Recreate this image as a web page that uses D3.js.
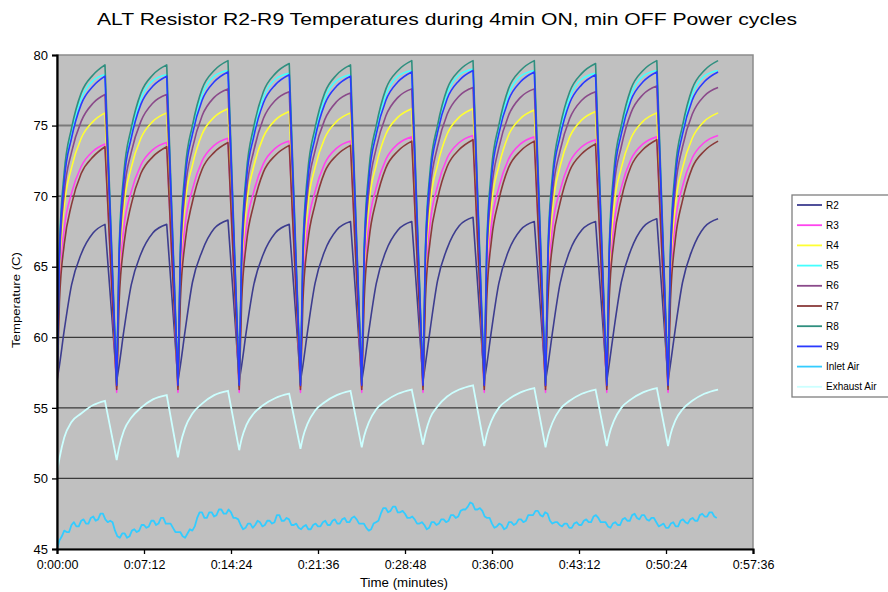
<!DOCTYPE html>
<html><head><meta charset="utf-8">
<script src="https://cdn.jsdelivr.net/npm/d3@7"></script>
<style>body{margin:0;background:#fff;} svg{display:block;font-family:"Liberation Sans",Arial,sans-serif;}</style>
</head><body><svg id="c" width="888" height="592"></svg>
<script>
// sample times (minutes): 7 samples per ON cycle (start/min ... peak)
const times = [
 0, 0.2, 0.6, 1.2, 2.0, 3.0, 3.97,
 4.94, 5.14, 5.54, 6.14, 6.94, 7.94, 9.08,
 10.01, 10.21, 10.61, 11.21, 12.01, 13.01, 14.15,
 15.08, 15.28, 15.68, 16.28, 17.08, 18.08, 19.22,
 20.15, 20.35, 20.75, 21.35, 22.15, 23.15, 24.29,
 25.22, 25.42, 25.82, 26.42, 27.22, 28.22, 29.36,
 30.29, 30.49, 30.89, 31.49, 32.29, 33.29, 34.43,
 35.36, 35.56, 35.96, 36.56, 37.36, 38.36, 39.50,
 40.43, 40.63, 41.03, 41.63, 42.43, 43.43, 44.57,
 45.50, 45.70, 46.10, 46.70, 47.50, 48.50, 49.64,
 50.57, 50.77, 51.17, 51.77, 52.57, 53.57, 54.71];

const R2 = [
 56.9, 58.0, 60.5, 63.7, 65.9, 67.4, 68.0,
 56.9, 58.0, 60.5, 63.7, 65.9, 67.4, 68.0,
 56.9, 58.0, 60.5, 63.9, 66.1, 67.7, 68.3,
 56.9, 58.0, 60.5, 63.7, 65.9, 67.4, 68.0,
 56.9, 58.0, 60.5, 63.8, 66.1, 67.6, 68.2,
 56.9, 58.0, 60.5, 63.8, 66.1, 67.6, 68.2,
 56.9, 58.1, 60.6, 64.0, 66.3, 67.9, 68.5,
 56.9, 58.0, 60.5, 63.8, 66.1, 67.6, 68.2,
 56.9, 58.0, 60.5, 63.8, 66.1, 67.6, 68.2,
 56.9, 58.1, 60.6, 63.9, 66.2, 67.8, 68.4,
 56.9, 58.1, 60.6, 63.9, 66.2, 67.8, 68.4];

const R3 = [
 56.1, 63.5, 67.7, 70.2, 72.1, 73.2, 73.7,
 56.1, 63.5, 67.8, 70.3, 72.2, 73.3, 73.8,
 56.1, 63.7, 68.0, 70.5, 72.5, 73.6, 74.1,
 56.1, 63.6, 67.8, 70.3, 72.3, 73.4, 73.9,
 56.1, 63.6, 67.8, 70.3, 72.3, 73.4, 73.9,
 56.1, 63.7, 68.0, 70.6, 72.6, 73.7, 74.2,
 56.1, 63.7, 68.1, 70.7, 72.7, 73.8, 74.3,
 56.1, 63.7, 68.0, 70.6, 72.6, 73.7, 74.2,
 56.1, 63.6, 67.9, 70.4, 72.4, 73.5, 74.0,
 56.1, 63.7, 68.0, 70.6, 72.6, 73.7, 74.2,
 56.1, 63.7, 68.1, 70.7, 72.7, 73.8, 74.3];

const R4 = [
 56.4, 64.6, 69.3, 72.0, 74.1, 75.3, 75.9,
 56.4, 64.6, 69.3, 72.0, 74.1, 75.3, 75.9,
 56.4, 64.7, 69.5, 72.2, 74.4, 75.6, 76.2,
 56.4, 64.6, 69.3, 72.1, 74.2, 75.4, 76.0,
 56.4, 64.6, 69.3, 72.0, 74.1, 75.3, 75.9,
 56.4, 64.7, 69.5, 72.2, 74.4, 75.6, 76.2,
 56.4, 64.7, 69.5, 72.2, 74.4, 75.6, 76.2,
 56.4, 64.7, 69.4, 72.1, 74.3, 75.5, 76.1,
 56.4, 64.6, 69.3, 72.1, 74.2, 75.4, 76.0,
 56.4, 64.6, 69.3, 72.0, 74.1, 75.3, 75.9,
 56.4, 64.6, 69.3, 72.0, 74.1, 75.3, 75.9];

const R5 = [
 56.7, 66.2, 71.5, 74.5, 76.9, 78.2, 78.6,
 56.7, 66.2, 71.5, 74.5, 76.9, 78.2, 78.6,
 56.7, 66.3, 71.7, 74.8, 77.2, 78.5, 78.9,
 56.7, 66.2, 71.6, 74.6, 77.0, 78.3, 78.7,
 56.7, 66.2, 71.5, 74.5, 76.9, 78.2, 78.6,
 56.7, 66.3, 71.7, 74.8, 77.2, 78.5, 78.9,
 56.7, 66.4, 71.8, 74.9, 77.3, 78.6, 79.0,
 56.7, 66.3, 71.7, 74.8, 77.2, 78.5, 78.9,
 56.7, 66.2, 71.6, 74.6, 77.0, 78.3, 78.7,
 56.7, 66.3, 71.7, 74.8, 77.2, 78.5, 78.9,
 56.7, 66.3, 71.7, 74.8, 77.2, 78.5, 78.9];

const R6 = [
 56.5, 65.2, 70.2, 73.1, 75.3, 76.6, 77.2,
 56.5, 65.2, 70.2, 73.1, 75.3, 76.6, 77.2,
 56.5, 65.4, 70.4, 73.4, 75.7, 77.0, 77.6,
 56.5, 65.3, 70.3, 73.2, 75.5, 76.8, 77.4,
 56.5, 65.2, 70.3, 73.2, 75.4, 76.7, 77.3,
 56.5, 65.4, 70.4, 73.4, 75.7, 77.0, 77.6,
 56.5, 65.4, 70.5, 73.5, 75.8, 77.1, 77.7,
 56.5, 65.4, 70.4, 73.4, 75.7, 77.0, 77.6,
 56.5, 65.3, 70.3, 73.2, 75.5, 76.8, 77.4,
 56.5, 65.4, 70.6, 73.5, 75.9, 77.2, 77.8,
 56.5, 65.4, 70.5, 73.5, 75.8, 77.1, 77.7];

const R7 = [
 56.3, 62.5, 66.6, 69.4, 71.6, 72.8, 73.5,
 56.3, 62.5, 66.6, 69.4, 71.6, 72.8, 73.5,
 56.3, 62.6, 66.8, 69.6, 71.9, 73.1, 73.8,
 56.3, 62.5, 66.7, 69.4, 71.7, 72.9, 73.6,
 56.3, 62.5, 66.7, 69.4, 71.7, 72.9, 73.6,
 56.3, 62.6, 66.9, 69.7, 72.0, 73.2, 73.9,
 56.3, 62.7, 66.9, 69.8, 72.1, 73.3, 74.0,
 56.3, 62.6, 66.9, 69.7, 72.0, 73.2, 73.9,
 56.3, 62.6, 66.7, 69.5, 71.8, 73.0, 73.7,
 56.3, 62.7, 66.9, 69.8, 72.1, 73.3, 74.0,
 56.3, 62.6, 66.9, 69.7, 72.0, 73.2, 73.9];

const R8 = [
 56.8, 66.3, 71.7, 74.8, 77.3, 78.6, 79.3,
 56.8, 66.3, 71.7, 74.8, 77.3, 78.6, 79.3,
 56.8, 66.4, 71.9, 75.0, 77.6, 78.9, 79.6,
 56.8, 66.3, 71.7, 74.9, 77.4, 78.7, 79.4,
 56.8, 66.3, 71.7, 74.8, 77.3, 78.6, 79.3,
 56.8, 66.4, 71.9, 75.0, 77.6, 78.9, 79.6,
 56.8, 66.4, 71.9, 75.0, 77.6, 78.9, 79.6,
 56.8, 66.4, 71.9, 75.0, 77.6, 78.9, 79.6,
 56.8, 66.3, 71.7, 74.9, 77.4, 78.7, 79.4,
 56.8, 66.4, 71.9, 75.0, 77.6, 78.9, 79.6,
 56.8, 66.4, 71.9, 75.0, 77.6, 78.9, 79.6];

const R9 = [
 56.6, 65.8, 71.1, 74.1, 76.5, 77.8, 78.5,
 56.6, 65.8, 71.1, 74.1, 76.5, 77.8, 78.5,
 56.6, 65.9, 71.3, 74.4, 76.8, 78.1, 78.8,
 56.6, 65.8, 71.2, 74.2, 76.6, 77.9, 78.6,
 56.6, 65.8, 71.1, 74.1, 76.5, 77.8, 78.5,
 56.6, 65.9, 71.3, 74.4, 76.8, 78.1, 78.8,
 56.6, 66.0, 71.4, 74.5, 76.9, 78.2, 78.9,
 56.6, 65.9, 71.3, 74.4, 76.8, 78.1, 78.8,
 56.6, 65.8, 71.2, 74.2, 76.6, 77.9, 78.6,
 56.6, 65.9, 71.3, 74.4, 76.8, 78.1, 78.8,
 56.6, 65.9, 71.3, 74.4, 76.8, 78.1, 78.8];

const exhaustAir = [
 50.4, 51.4, 52.9, 54.0, 54.6, 55.2, 55.5,
 51.3, 52.2, 53.4, 54.3, 55.0, 55.6, 55.9,
 51.5, 52.4, 53.6, 54.6, 55.3, 55.9, 56.2,
 52.0, 52.8, 53.8, 54.6, 55.2, 55.7, 56.0,
 52.1, 52.9, 53.9, 54.8, 55.4, 55.9, 56.2,
 52.2, 53.0, 54.0, 54.9, 55.5, 56.0, 56.3,
 52.4, 53.2, 54.3, 55.1, 55.8, 56.3, 56.6,
 52.3, 53.1, 54.1, 55.0, 55.6, 56.1, 56.4,
 52.2, 53.0, 54.0, 54.9, 55.5, 56.0, 56.3,
 52.3, 53.1, 54.1, 55.0, 55.6, 56.1, 56.4,
 52.3, 53.1, 54.1, 54.9, 55.5, 56.0, 56.3];

// inlet air logged every 0.2 min from 0:00:00
const inletStep = 0.2;
const inletAir = [
 45.0,45.6,45.9,46.3,46.2,46.2,46.7,46.9,46.6,46.6,47.0,47.1,46.8,46.8,47.2,47.3,47.0,47.1,47.5,47.5,
 47.1,46.9,47.0,46.9,46.3,45.9,45.8,46.1,46.1,45.8,45.9,46.3,46.4,46.2,46.3,46.7,46.7,46.5,46.6,47.0,
 47.0,46.7,46.8,47.2,47.2,46.8,46.8,46.8,46.5,46.2,46.2,46.2,45.9,45.8,46.1,46.4,46.3,46.6,47.2,47.6,
 47.6,47.2,47.2,47.6,47.6,47.3,47.4,47.8,47.8,47.5,47.5,47.8,47.6,47.2,47.2,47.1,46.7,46.4,46.5,46.8,
 46.8,46.5,46.7,47.0,46.9,46.6,46.7,47.0,47.0,46.8,46.9,47.4,47.4,47.0,47.0,47.2,47.1,46.7,46.7,46.8,
 46.5,46.4,46.6,46.7,46.4,46.4,46.7,46.8,46.6,46.6,46.9,47.0,46.7,46.7,47.0,47.1,46.8,46.8,47.1,47.2,
 46.9,46.9,47.2,47.3,47.1,46.8,46.8,46.8,46.5,46.3,46.4,46.8,46.9,47.0,47.5,47.9,47.9,47.6,47.7,48.0,
 48.0,47.6,47.6,47.7,47.5,47.2,47.2,47.3,47.1,46.8,46.8,46.9,46.7,46.4,46.5,46.9,46.9,46.7,46.8,47.1,
 47.1,46.9,47.0,47.4,47.4,47.2,47.3,47.7,47.8,47.8,48.0,48.3,48.2,47.8,47.8,47.9,47.7,47.3,47.2,47.2,
 46.8,46.5,46.6,46.8,46.7,46.4,46.5,46.9,46.9,46.7,46.8,47.1,47.1,46.9,47.0,47.4,47.4,47.4,47.7,47.7,
 47.4,47.3,47.6,47.5,47.0,46.8,46.9,46.9,46.7,46.6,46.8,46.8,46.5,46.5,46.8,46.9,46.7,46.7,47.0,47.1,
 46.9,46.9,47.3,47.4,47.2,46.9,46.9,46.9,46.6,46.5,46.8,46.9,46.7,46.7,47.1,47.2,47.0,47.0,47.4,47.5,
 47.2,47.1,47.4,47.4,47.1,47.0,47.2,47.2,46.9,46.6,46.7,46.8,46.5,46.5,46.8,46.9,46.6,46.6,47.0,47.1,
 46.9,46.8,47.1,47.2,47.0,47.0,47.4,47.5,47.3,47.3,47.6,47.6,47.3,47.2];

const seriesNames = ["R2","R3","R4","R5","R6","R7","R8","R9","Inlet Air","Exhaust Air"];
const seriesColors = ["#3d3d8f","#ff44ee","#ffff33","#44ffff","#8a4a8a","#8a3a3a","#2f8f7f","#2a3aff","#33ccff","#ccffff"];
const yTicks = [45,50,55,60,65,70,75,80];
const xTicks = [0,7.2,14.4,21.6,28.8,36,43.2,50.4,57.6];
const xTickLabels = ["0:00:00","0:07:12","0:14:24","0:21:36","0:28:48","0:36:00","0:43:12","0:50:24","0:57:36"];

const svg = d3.select("#c");
const x = d3.scaleLinear().domain([0,57.6]).range([57,753]);
const y = d3.scaleLinear().domain([45,80]).range([549,55]);

svg.append("text").attr("x",447).attr("y",25).attr("text-anchor","middle")
  .attr("font-size",16.5).attr("textLength",700).attr("lengthAdjust","spacingAndGlyphs")
  .text("ALT Resistor R2-R9 Temperatures during 4min ON, min OFF Power cycles");

svg.append("rect").attr("x",x(0)).attr("y",y(80)).attr("width",x(57.6)-x(0)).attr("height",y(45)-y(80))
  .attr("fill","#c0c0c0").attr("stroke","#8c8c8c").attr("stroke-width",1.5);

svg.append("g").selectAll("line").data(yTicks.filter(v=>v>45&&v<80)).join("line")
  .attr("x1",x(0)).attr("x2",x(57.6)).attr("y1",d=>y(d)).attr("y2",d=>y(d))
  .attr("stroke",d=>d===75?"#7a7a7a":"#3a3a3a").attr("stroke-width",d=>d===75?2:1.3);

svg.append("clipPath").attr("id","pc").append("rect")
  .attr("x",x(0)).attr("y",y(80)).attr("width",x(57.6)-x(0)).attr("height",y(45)-y(80));
const plot = svg.append("g").attr("clip-path","url(#pc)");

const rise = d3.line().x(d=>x(d[0])).y(d=>y(d[1])).curve(d3.curveMonotoneX);
function cyclePath(vals){
  let d = "";
  const n = times.length/7;
  for(let k=0;k<n;k++){
    const pts = d3.range(7).map(j=>[times[7*k+j], vals[7*k+j]]);
    let seg = rise(pts);
    if(k>0) seg = "L"+seg.slice(1);
    d += seg;
  }
  return d;
}
[R2,R3,R4,R5,R6,R7,R8,R9].forEach((vals,i)=>{
  plot.append("path").attr("d",cyclePath(vals)).attr("fill","none")
    .attr("stroke",seriesColors[i]).attr("stroke-width",1.6).attr("stroke-linejoin","round");
});
const lin = d3.line().x((d,i)=>x(i*inletStep)).y(d=>y(d));
plot.append("path").attr("d",lin(inletAir)).attr("fill","none").attr("stroke",seriesColors[8]).attr("stroke-width",1.8).attr("stroke-linejoin","round");
plot.append("path").attr("d",cyclePath(exhaustAir)).attr("fill","none").attr("stroke",seriesColors[9]).attr("stroke-width",1.8);

const ya = svg.append("g").attr("transform",`translate(${x(0)},0)`)
  .call(d3.axisLeft(y).tickValues(yTicks).tickSize(5).tickPadding(4).tickFormat(d3.format("d")));
ya.select(".domain").attr("stroke","#000").attr("stroke-width",2.2);
ya.selectAll(".tick line").attr("stroke","#000").attr("stroke-width",1.3);
ya.selectAll("text").attr("font-size",13).attr("font-family","Liberation Sans, Arial, sans-serif").attr("fill","#000");

const xa = svg.append("g").attr("transform",`translate(0,${y(45)})`)
  .call(d3.axisBottom(x).tickValues(xTicks).tickSize(5).tickPadding(6).tickFormat((d,i)=>xTickLabels[i]));
xa.select(".domain").attr("stroke","#000").attr("stroke-width",2.2);
xa.selectAll(".tick line").attr("stroke","#000").attr("stroke-width",1.3);
xa.selectAll("text").attr("font-size",12.5).attr("font-family","Liberation Sans, Arial, sans-serif").attr("fill","#000");

svg.append("text").attr("x",404).attr("y",587).attr("text-anchor","middle").attr("font-size",12.5)
  .attr("textLength",88).attr("lengthAdjust","spacingAndGlyphs").text("Time (minutes)");
svg.append("text").attr("transform","translate(20,300) rotate(-90)").attr("text-anchor","middle")
  .attr("font-size",11.5).attr("textLength",96).attr("lengthAdjust","spacingAndGlyphs").text("Temperature (C)");

const lg = svg.append("g");
lg.append("rect").attr("x",792).attr("y",195).attr("width",110).attr("height",202)
  .attr("fill","#fff").attr("stroke","#7f7f7f").attr("stroke-width",1.3);
const items = lg.selectAll("g.it").data(seriesNames).join("g").attr("class","it")
  .attr("transform",(d,i)=>`translate(0,${205+i*20.2})`);
items.append("line").attr("x1",797).attr("x2",822).attr("y1",0).attr("y2",0)
  .attr("stroke",(d,i)=>seriesColors[i]).attr("stroke-width",1.8);
items.append("text").attr("x",826).attr("y",3.5).attr("font-size",10).text(d=>d);
</script></body></html>
